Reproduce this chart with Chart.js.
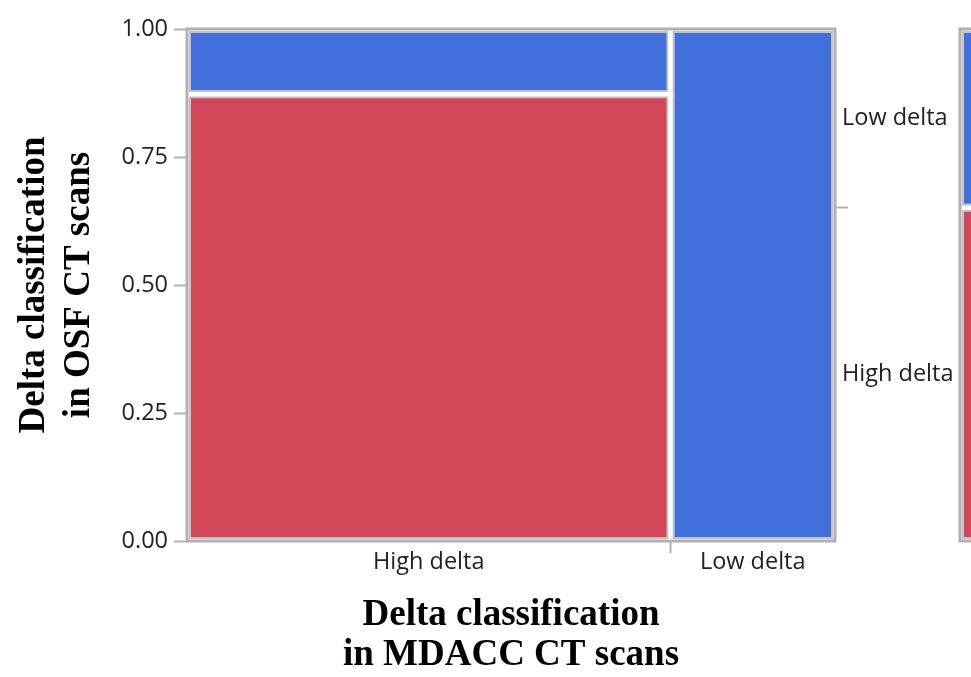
<!DOCTYPE html>
<html>
<head>
<meta charset="utf-8">
<script src="https://cdn.jsdelivr.net/npm/chart.js@4.4.1/dist/chart.umd.min.js"></script>
<style>
  html, body { margin: 0; padding: 0; background: #fff; overflow: hidden; }
  #wrap { position: relative; width: 971px; height: 677px; overflow: hidden; }
  #main { position: absolute; left: 0; top: 0; }
  #side { position: absolute; left: 950px; top: 0; }
</style>
</head>
<body>
<div id="wrap">
  <canvas id="main" width="971" height="677"></canvas>
  <canvas id="side" width="80" height="677"></canvas>
</div>
<script>
// Columns: delta classification in MDACC CT scans
const mdaccCategories = ['High delta', 'Low delta'];
// Rows: delta classification in OSF CT scans
const osfCategories = ['High delta', 'Low delta'];
// Scan counts per MDACC column, split by OSF class
const osfHighCounts = [41, 0];
const osfLowCounts = [6, 16];
// Proportion axis ticks
const yTickValues = [0, 0.25, 0.5, 0.75, 1];

const RED = '#d34859';
const BLUE = '#4170dc';
const OUTLINE = '#c4c4c4';
const FRAME = '#b0b0b0';
const TICK_FONT = { family: "'Open Sans', 'Noto Sans', sans-serif", size: 23.5 };
const TITLE_FAMILY = "'Liberation Serif', 'Times New Roman', serif";
const LABEL_COLOR = '#222222';

// ---- mosaic geometry in data units ----
const colTotals = osfHighCounts.map((h, i) => h + osfLowCounts[i]);
const grandTotal = colTotals.reduce((a, b) => a + b, 0);
const columns = [];
let run = 0;
colTotals.forEach((t, i) => {
  const x0 = run / grandTotal;
  run += t;
  const x1 = run / grandTotal;
  columns.push({ x0, x1, split: osfHighCounts[i] / t });
});
const overallHigh = osfHighCounts.reduce((a, b) => a + b, 0) / grandTotal;

function rect(x0, x1, y0, y1) {
  return [{ x: x0, y: y0 }, { x: x1, y: y0 }, { x: x1, y: y1 }, { x: x0, y: y1 }, { x: x0, y: y0 }];
}

function cellDatasets(cells) {
  const filled = cells.map(c => ({
    data: c.pts, showLine: true, fill: 'shape', backgroundColor: c.color,
    borderColor: OUTLINE, borderWidth: 8, borderJoinStyle: 'miter',
    pointRadius: 0, pointHoverRadius: 0, tension: 0, order: 1, clip: 0
  }));
  const gaps = cells.map(c => ({
    data: c.pts, showLine: true, fill: false, borderColor: '#ffffff',
    borderWidth: 4, borderJoinStyle: 'miter',
    pointRadius: 0, pointHoverRadius: 0, tension: 0, order: 0, clip: 0
  }));
  return filled.concat(gaps);
}

const mainCells = [];
columns.forEach(col => {
  if (col.split > 0) mainCells.push({ pts: rect(col.x0, col.x1, 0, col.split), color: RED });
  if (col.split < 1) mainCells.push({ pts: rect(col.x0, col.x1, col.split, 1), color: BLUE });
});

const sideCells = [
  { pts: rect(0, 1, 0, overallHigh), color: RED },
  { pts: rect(0, 1, overallHigh, 1), color: BLUE }
];

// frame around the plotting area
const framePlugin = {
  id: 'frame',
  afterDatasetsDraw(chart) {
    const { ctx, chartArea: a } = chart;
    ctx.save();
    ctx.strokeStyle = FRAME;
    ctx.lineWidth = 3;
    ctx.strokeRect(a.left, a.top, a.right - a.left, a.bottom - a.top);
    ctx.restore();
  }
};

// x ticks: labels at column centres, tick marks at column boundaries
const xTicks = [];
columns.forEach((col, i) => {
  xTicks.push({ value: (col.x0 + col.x1) / 2, label: mdaccCategories[i], mark: false });
  if (i < columns.length - 1) xTicks.push({ value: col.x1, label: '', mark: true });
});
// right-hand ticks: OSF classes at the middle of their overall share
const rTicks = [
  { value: overallHigh / 2, label: osfCategories[0], mark: false },
  { value: overallHigh, label: '', mark: true },
  { value: (overallHigh + 1) / 2, label: osfCategories[1], mark: false }
];

Chart.defaults.animation = false;

new Chart(document.getElementById('main'), {
  type: 'scatter',
  data: { datasets: cellDatasets(mainCells) },
  plugins: [framePlugin],
  options: {
    responsive: false,
    animation: false,
    events: [],
    layout: { padding: { top: 29, left: 0, right: 0, bottom: 0 } },
    plugins: { legend: { display: false }, tooltip: { enabled: false } },
    scales: {
      x: {
        type: 'linear', position: 'bottom', min: 0, max: 1,
        afterBuildTicks: s => { s.ticks = xTicks.map(t => ({ value: t.value, mark: t.mark })); },
        afterFit: s => { s.height = 136; },
        border: { display: false },
        grid: {
          drawOnChartArea: false, drawTicks: true, tickLength: 12, tickWidth: 2,
          tickColor: ctx => (ctx.tick && ctx.tick.mark ? FRAME : 'rgba(0,0,0,0)')
        },
        ticks: {
          autoSkip: false, maxRotation: 0, padding: -5, color: LABEL_COLOR, font: TICK_FONT,
          callback: (v, i) => xTicks[i].label
        },
        title: {
          display: true,
          text: ['Delta classification', 'in MDACC CT scans'],
          color: '#000',
          font: { family: TITLE_FAMILY, size: 37, weight: 'bold', lineHeight: 1.08 },
          padding: { top: 0, bottom: 2 }
        }
      },
      y: {
        type: 'linear', position: 'left', min: 0, max: 1,
        afterBuildTicks: s => { s.ticks = yTickValues.map(v => ({ value: v })); },
        afterFit: s => { s.width = 187; },
        border: { display: false },
        grid: { drawOnChartArea: false, drawTicks: true, tickLength: 13, tickWidth: 2, tickColor: FRAME },
        ticks: { padding: 6, color: LABEL_COLOR, font: TICK_FONT, callback: v => v.toFixed(2) },
        title: {
          display: true,
          text: ['Delta classification', 'in OSF CT scans'],
          color: '#000',
          font: { family: TITLE_FAMILY, size: 37, weight: 'bold', lineHeight: 1.22 },
          padding: { top: 12, bottom: 0 }
        }
      },
      y2: {
        type: 'linear', position: 'right', min: 0, max: 1,
        afterBuildTicks: s => { s.ticks = rTicks.map(t => ({ value: t.value, mark: t.mark })); },
        afterFit: s => { s.width = 136; },
        border: { display: false },
        grid: {
          drawOnChartArea: false, drawTicks: true, tickLength: 13, tickWidth: 2,
          tickColor: ctx => (ctx.tick && ctx.tick.mark ? FRAME : 'rgba(0,0,0,0)')
        },
        ticks: {
          autoSkip: false, padding: -6, color: LABEL_COLOR, font: TICK_FONT,
          callback: (v, i) => rTicks[i].label
        }
      }
    }
  }
});

// neighbouring panel: overall OSF split, partly visible at the right edge
new Chart(document.getElementById('side'), {
  type: 'scatter',
  data: { datasets: cellDatasets(sideCells) },
  plugins: [framePlugin],
  options: {
    responsive: false,
    animation: false,
    events: [],
    layout: { padding: { top: 29, left: 10, right: 0, bottom: 136 } },
    plugins: { legend: { display: false }, tooltip: { enabled: false } },
    scales: {
      x: { type: 'linear', min: 0, max: 1, display: false },
      y: { type: 'linear', min: 0, max: 1, display: false }
    }
  }
});
</script>
</body>
</html>
